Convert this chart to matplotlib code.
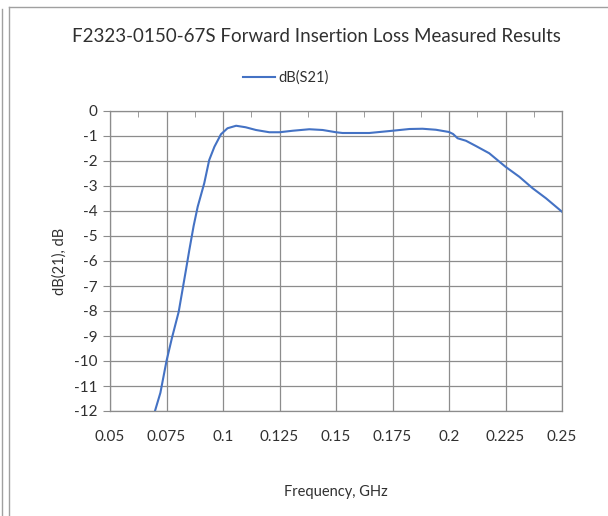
import matplotlib.pyplot as plt
from matplotlib.lines import Line2D
from matplotlib.ticker import MultipleLocator

# measured curve
freq_ghz = [0.0699, 0.0723, 0.0750, 0.0774, 0.0804, 0.0836, 0.0851, 0.0870, 0.0888, 0.0917,
            0.0939, 0.0962, 0.0991, 0.1020, 0.1058, 0.1100, 0.1146, 0.1205, 0.1250,
            0.1308, 0.1382, 0.1441, 0.1500, 0.1529, 0.1559, 0.1647, 0.1750, 0.1825,
            0.1883, 0.1942, 0.2000, 0.2018, 0.2038, 0.2075, 0.2119, 0.2178, 0.2250,
            0.2311, 0.2370, 0.2429, 0.2500]
s21_db = [-12.0, -11.27, -10.0, -9.08, -8.03, -6.36, -5.56, -4.6, -3.83, -2.89,
          -1.96, -1.43, -0.93, -0.69, -0.59, -0.65, -0.76, -0.85, -0.85,
          -0.79, -0.73, -0.76, -0.85, -0.88, -0.88, -0.88, -0.79, -0.72,
          -0.71, -0.75, -0.84, -0.92, -1.09, -1.19, -1.40, -1.69, -2.23,
          -2.63, -3.09, -3.49, -4.03]

x_ticks = [0.05, 0.075, 0.1, 0.125, 0.15, 0.175, 0.2, 0.225, 0.25]
x_labels = ['0.05', '0.075', '0.1', '0.125', '0.15', '0.175', '0.2', '0.225', '0.25']
y_ticks = list(range(0, -13, -1))

plt.rcParams['font.family'] = ['Lato', 'DejaVu Sans']

fig = plt.figure(figsize=(6.08, 5.16), dpi=100)
ax = fig.add_axes([110 / 608, 1 - 411 / 516, 452 / 608, 300 / 516])

ax.plot(freq_ghz, s21_db, color='#4472C4', linewidth=1.5, label='dB(S21)')

ax.set_xlim(0.05, 0.25)
ax.set_ylim(-12, 0)
ax.set_xticks(x_ticks)
ax.set_xticklabels(x_labels)
ax.set_yticks(y_ticks)
ax.set_yticklabels([str(v) for v in y_ticks])
ax.xaxis.set_minor_locator(MultipleLocator(0.0125))

ax.grid(True, which='major', color='#8c8c8c', linewidth=0.9)
for s in ax.spines.values():
    s.set_color('#8c8c8c')
    s.set_linewidth(0.9)

ax.tick_params(axis='x', which='major', bottom=False, top=False, labelsize=11,
               labelcolor='#303030', pad=10)
ax.tick_params(axis='x', which='minor', bottom=False, top=True, direction='in',
               length=4, color='#8c8c8c')
ax.tick_params(axis='y', which='major', direction='out', length=5, color='#8c8c8c',
               labelsize=11, labelcolor='#303030', pad=4)

ax.set_xlabel('Frequency, GHz', fontsize=10.5, color='#303030', labelpad=30)
ax.set_ylabel('dB(21), dB', fontsize=10.5, color='#303030', labelpad=5)

fig.text(0.52, 1 - 37 / 516, 'F2323-0150-67S Forward Insertion Loss Measured Results',
         ha='center', va='center', fontsize=13.5, color='#303030')

fig.legend(handles=[Line2D([], [], color='#4472C4', linewidth=1.5)], labels=['dB(S21)'],
           loc='center', bbox_to_anchor=(0.47, 1 - 78 / 516), frameon=False,
           fontsize=10.5, handlelength=2.2, handletextpad=0.2, labelcolor='#303030')

# outer chart frame
fig.add_artist(Line2D([1.5 / 608, 1.5 / 608], [0, 1 - 9 / 516], color='#a0a0a0', linewidth=1))
fig.add_artist(Line2D([9 / 608, 9 / 608], [0, 1 - 7 / 516], color='#a0a0a0', linewidth=1))
fig.add_artist(Line2D([9 / 608, 1], [1 - 7 / 516, 1 - 7 / 516], color='#a0a0a0', linewidth=1))

fig.savefig('out.png', dpi=100)
